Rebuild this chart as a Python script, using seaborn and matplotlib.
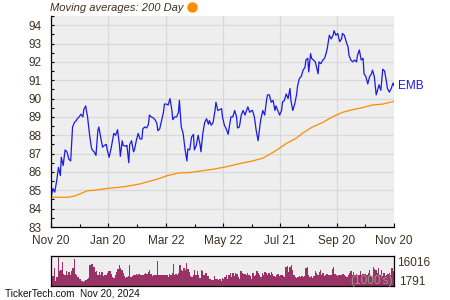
import numpy as np
import pandas as pd
import matplotlib
matplotlib.use("Agg")
import matplotlib.pyplot as plt
from matplotlib.lines import Line2D
import seaborn as sns

# ---------------- data ----------------
start_date = "2023-11-20"
end_date = "2024-11-20"

price_days = [0, 2, 4, 6, 8, 10, 11, 13, 15, 17,
              19, 21, 23, 25, 27, 28, 30, 32, 34, 35,
              37, 39, 41, 43, 44, 46, 48, 50, 51, 53,
              55, 57, 59, 60, 62, 64, 66, 67, 69, 71,
              73, 74, 76, 77, 80, 81, 83, 84, 86, 88,
              89, 91, 93, 95, 97, 98, 100, 102, 104, 105,
              107, 109, 111, 113, 114, 116, 118, 120, 121, 123,
              125, 127, 129, 130, 132, 134, 136, 137, 139, 141,
              143, 145, 146, 148, 150, 152, 153, 155, 157, 159,
              160, 162, 164, 166, 168, 169, 171, 173, 175, 176,
              178, 180, 182, 183, 185, 187, 189, 191, 192, 194,
              196, 198, 199, 201, 203, 205, 207, 208, 210, 212,
              214, 215, 217, 219, 221, 223, 224, 226, 228, 230,
              231, 233, 235, 237, 239, 240, 242, 244, 246, 247,
              249, 251, 253, 255, 256, 258, 260, 262, 263, 265,
              267, 269, 271, 272, 274, 275, 277, 278, 280, 282,
              285, 286, 288, 290, 292, 294, 295, 297, 299, 301,
              302, 304, 306, 308, 310, 311, 313, 315, 317, 318,
              320, 322, 324, 326, 327, 329, 331, 333, 334, 336,
              338, 340, 342, 343, 345, 347, 349, 350, 352, 354,
              356, 358, 359, 361, 363, 365, 366]
price_close = [84.6, 85.1, 84.9, 85.5, 86.25, 85.8, 86.8, 86.35, 87.2, 87.1,
               86.7, 86.6, 88.45, 88.7, 88.8, 88.9, 89.0, 89.15, 89.0, 89.4,
               89.6, 89.0, 88.1, 87.35, 87.2, 87.1, 86.9, 88.25, 88.45, 87.9,
               87.35, 87.45, 87.5, 87.2, 86.8, 87.25, 87.8, 88.1, 88.0, 88.3,
               87.5, 86.85, 87.7, 87.45, 87.4, 87.45, 86.5, 87.5, 87.7, 87.1,
               87.2, 87.7, 88.1, 87.8, 87.8, 88.35, 88.45, 88.4, 88.6, 89.1,
               89.0, 88.95, 88.85, 88.65, 88.25, 88.35, 88.8, 89.25, 89.7, 89.7,
               89.65, 90.0, 89.35, 88.85, 89.0, 89.0, 89.25, 89.9, 88.45, 88.1,
               87.25, 86.6, 87.25, 87.2, 87.9, 88.05, 87.2, 87.45, 88.0, 87.5,
               87.1, 88.1, 88.7, 88.9, 88.6, 88.8, 88.55, 88.7, 89.35, 89.8,
               89.35, 89.4, 89.45, 89.0, 88.55, 88.35, 88.05, 88.7, 89.0, 89.0,
               89.35, 89.0, 88.4, 88.45, 89.1, 89.35, 89.1, 89.25, 89.55, 89.25,
               89.35, 89.35, 89.0, 88.25, 87.7, 88.55, 88.9, 89.35, 89.1, 89.9,
               90.2, 90.2, 89.8, 89.9, 89.35, 89.6, 89.35, 89.1, 89.35, 89.8,
               89.9, 90.25, 90.0, 90.55, 89.9, 89.35, 89.7, 90.2, 90.65, 91.1,
               91.2, 91.55, 91.7, 92.1, 92.2, 91.45, 92.45, 92.2, 92.1, 92.0,
               91.35, 92.0, 91.9, 92.1, 92.2, 92.55, 92.8, 93.45, 93.25, 93.45,
               93.7, 93.45, 93.55, 93.1, 93.25, 93.55, 93.45, 93.1, 92.8, 92.35,
               92.1, 92.0, 92.1, 92.0, 92.35, 92.65, 92.1, 92.2, 91.35, 91.2,
               90.8, 91.2, 91.35, 91.55, 91.2, 90.2, 90.55, 90.75, 90.45, 91.6,
               91.5, 90.9, 90.55, 90.35, 90.55, 90.85, 90.7]

ma_days = [0, 18, 26, 39, 45, 60, 79, 95, 102, 113, 124, 137, 148, 159, 173, 187,
           201, 215, 226, 233, 241, 251, 262, 268, 279, 290, 300, 311, 322, 332,
           343, 354, 366]
ma_200 = [84.62, 84.62, 84.7, 84.98, 85.0, 85.1, 85.2, 85.35, 85.45, 85.6, 85.8,
          85.95, 85.97, 86.05, 86.15, 86.28, 86.45, 86.6, 86.75, 86.95, 87.2,
          87.55, 87.85, 88.1, 88.45, 88.7, 89.0, 89.25, 89.4, 89.5, 89.65, 89.7,
          89.85]

volume = [5460, 5096, 9464, 2184, 4550, 16016, 7644, 8190, 12740, 6370,
          5824, 7644, 5460, 7280, 5460, 7644, 9464, 14196, 6370, 5460,
          4550, 3640, 3276, 2184, 1791, 2184, 2730, 3276, 4004, 11284,
          11830, 11830, 10010, 7280, 7644, 5460, 7280, 5460, 7280, 5096,
          5824, 5460, 6916, 7644, 7644, 6370, 4550, 4004, 5460, 7280,
          8736, 10920, 9464, 8190, 6916, 5096, 4004, 4550, 5096, 10920,
          4550, 5096, 5460, 5824, 6370, 5824, 6370, 5460, 5824, 5824,
          6370, 6916, 6370, 7280, 8190, 6370, 5096, 5460, 5460, 5824,
          13104, 5460, 5460, 5824, 5824, 5824, 5460, 5824, 4550,
          6370, 5824, 6916, 11830, 5824, 6370, 5824, 6916, 11284, 8190,
          7644, 9464, 8190, 12194, 9100, 7280, 5096, 4550, 5824, 8190,
          5460, 7644, 5460, 4004, 8190, 7644, 5824, 6916, 6916, 5096,
          3640, 3640, 2730, 2730, 5096, 3640, 3276, 2730, 3276, 2184,
          4004, 3640, 4550, 5824, 3640, 5824, 6916, 4550, 6916, 5096,
          6916, 6370, 4550, 3640, 7644, 6916, 6370, 6370, 5824, 6916,
          5460, 5096, 3640, 6916, 5096, 5824, 7644, 6916, 5824, 4550,
          6916, 5824, 7280, 6916, 5824, 6916, 5824, 7280, 6370, 5096,
          4550, 5460, 6370, 5096, 5460, 5824, 5096,
          4550, 10010, 10556, 7280, 10010, 11284, 8190, 5460, 4550, 4004,
          4550, 5096, 4550, 5096, 4550, 5096, 9464, 10010, 5824, 4550,
          5096, 4004, 5096, 7644, 6916, 5824, 7280, 8190, 5460, 6916,
          5096, 5824, 6370, 5460, 5460, 5824, 9100, 10010, 6370, 5460,
          5096, 5460, 5460, 5824, 6370, 5460, 5096, 4550, 5460, 6916,
          7644, 5824, 7280, 5460, 6370, 5824, 5460, 7644, 5460, 6370,
          6370, 6370, 5460, 6916, 8190, 5096, 4550, 10010, 9100, 8190,
          6916, 9464, 5460, 8190, 5096, 6916, 5096, 5460, 6370, 6916,
          5460, 9464, 7644]

tick_dates = ["2023-11-20", "2024-01-20", "2024-03-22", "2024-05-22",
              "2024-07-21", "2024-09-20", "2024-11-20"]
tick_labels = ["Nov 20", "Jan 20", "Mar 22", "May 22", "Jul 21", "Sep 20", "Nov 20"]
y_ticks = [83, 84, 85, 86, 87, 88, 89, 90, 91, 92, 93, 94]
vol_max_label = "16016"
vol_min_label = "1791"
symbol = "EMB"

# ---------------- frames ----------------
start = pd.Timestamp(start_date)
end = pd.Timestamp(end_date)
price_df = pd.DataFrame({"date": start + pd.to_timedelta(price_days, unit="D"),
                         "close": price_close})
ma_df = pd.DataFrame({"date": start + pd.to_timedelta(ma_days, unit="D"),
                      "ma": ma_200})
vol_dates = pd.date_range(start, end, periods=len(volume) + 1)[:-1] + (end - start) / len(volume) / 2
vol_df = pd.DataFrame({"date": vol_dates, "vol": volume})

# ---------------- style ----------------
sns.set_theme(style="white")
plt.rcParams['font.family'] = ['Liberation Sans', 'DejaVu Sans']
txt = "#3d3020"
blue = "#1a1ae6"
orange = "#ff8c00"
bg = "#eeeeee"

fig = plt.figure(figsize=(4.5, 3), dpi=100)
fig.patch.set_facecolor("white")

ax = fig.add_axes([51 / 450, 1 - 227 / 300, 343 / 450, 211 / 300])
ax.set_facecolor(bg)
sns.lineplot(data=ma_df, x="date", y="ma", color=orange, lw=0.9, ax=ax)
sns.lineplot(data=price_df, x="date", y="close", color=blue, lw=0.9, ax=ax)
ax.set_xlim(start, end)
ax.set_ylim(83, 94.5)
ax.set_xlabel("")
ax.set_ylabel("")

td = pd.to_datetime(tick_dates)
ax.set_xticks(td)
ax.set_xticklabels(tick_labels)
minor = [td[i] + (td[i + 1] - td[i]) / 2 for i in range(len(td) - 1)]
ax.set_xticks(minor, minor=True)
ax.set_yticks(y_ticks)
ax.set_yticks([v + 0.5 for v in y_ticks], minor=True)
ax.grid(True, which="major", color="#d9d9d9", lw=0.9)
ax.set_axisbelow(True)
for s in ["top", "right"]:
    ax.spines[s].set_visible(False)
for s in ["left", "bottom"]:
    ax.spines[s].set_color("black")
    ax.spines[s].set_linewidth(0.9)
ax.tick_params(axis="x", which="major", direction="in", length=3, width=0.8,
               color="black", labelsize=8.5, labelcolor=txt, pad=6, bottom=True)
ax.tick_params(axis="x", which="minor", direction="in", length=2.5, width=0.8,
               color="black", bottom=True)
ax.tick_params(axis="y", which="major", direction="in", length=2.5, width=0.8,
               color="black", labelsize=8.5, labelcolor=txt, pad=7, left=True)
ax.tick_params(axis="y", which="minor", direction="in", length=2, width=0.8,
               color="black", left=True)

ax.annotate(symbol, xy=(price_df["date"].iloc[-1], price_df["close"].iloc[-1]),
            xytext=(3, 0), textcoords="offset points", color=blue, fontsize=8.5,
            va="center", ha="left", annotation_clip=False)

fig.text(50 / 450, 1 - 8 / 300, "Moving averages: 200 Day", style="italic",
         fontsize=8, color=txt, va="center", ha="left")
fig.add_artist(Line2D([192 / 450], [1 - 7 / 300], marker="o", markersize=6.5,
                      color=orange, transform=fig.transFigure, linestyle="none"))

# ---------------- volume ----------------
axv = fig.add_axes([51 / 450, 1 - 285.5 / 300, 343 / 450, 29.5 / 300])
axv.set_facecolor(bg)
axv.bar(vol_df["date"], vol_df["vol"], width=(end - start).days / len(volume) * 1.02,
        color="#993366", linewidth=0)
axv.set_xlim(start, end)
axv.set_ylim(0, max(volume))
axv.set_xticks([])
axv.set_yticks([])
for s in axv.spines.values():
    s.set_visible(True)
    s.set_color("black")
    s.set_linewidth(0.9)
axv.text(0.995, 0.16, "(1000's)", transform=axv.transAxes, ha="right", va="center",
         fontsize=8.5, color="#9a9a90")
fig.text(397 / 450, 1 - 263 / 300, vol_max_label, fontsize=8.5, color=txt,
         va="center", ha="left")
fig.text(399 / 450, 1 - 282 / 300, vol_min_label, fontsize=8.5, color=txt,
         va="center", ha="left")
fig.text(5 / 450, 1 - 294 / 300, "TickerTech.com  Nov 20, 2024", fontsize=7.2,
         color="#111111", va="center", ha="left")

fig.savefig("out.png", dpi=100)
